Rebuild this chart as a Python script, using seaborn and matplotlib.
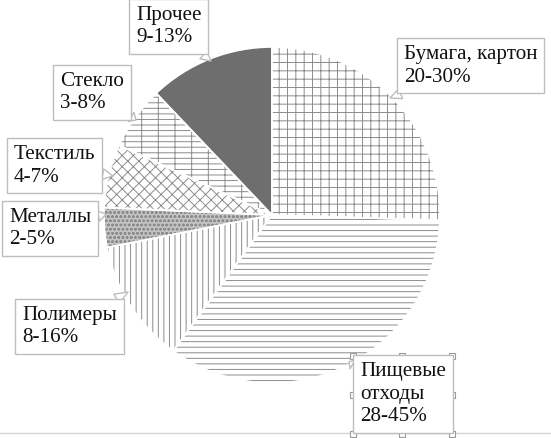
import matplotlib
matplotlib.use("Agg")
import matplotlib.pyplot as plt
import seaborn as sns

# категорії та частки (оцінено з рисунка)
categories = ["Бумага, картон", "Пищевые\nотходы", "Полимеры", "Металлы",
              "Текстиль", "Стекло", "Прочее"]
ranges = ["20-30%", "28-45%", "8-16%", "2-5%", "4-7%", "3-8%", "9-13%"]
shares = [25.5, 34.5, 11.9, 3.8, 6.1, 6.1, 12.1]

hatches = ["++", "---", "|||", "oooo", "xxx", "+--", ""]
fills = ["white", "white", "white", "#c4c4c4", "white", "white", "#6e6e6e"]

# положення підписів (ліво, верх тексту) і точка виноски, у пікселях
label_pos = [(404, 45), (360, 362), (22, 306), (9, 208), (14, 145), (60, 72), (136, 6)]
tail_to = [(390, 98), (349, 362), (128, 292), (106, 214), (113, 176), (136, 120), (211, 61)]

sns.set_style("white")
plt.rcParams["font.family"] = ["Liberation Serif", "DejaVu Serif"]
plt.rcParams["hatch.linewidth"] = 0.7

W, H = 551, 438
fig = plt.figure(figsize=(W / 100, H / 100), dpi=100)
ax = fig.add_axes([0, 0, 1, 1])

cx, cy, r = 272, 215, 168

wedges, _ = ax.pie(shares, colors=fills, hatch=hatches, startangle=-90,
                   counterclock=True, center=(cx, cy), radius=r,
                   wedgeprops=dict(linewidth=0, edgecolor="#8c8c8c"))
ax.pie(shares, startangle=-90, counterclock=True, center=(cx, cy), radius=r,
       wedgeprops=dict(fill=False, edgecolor="white", linewidth=1.2))

ax.set_xlim(0, W)
ax.set_ylim(H, 0)
ax.set_aspect("auto")
ax.axis("off")

for name, rng, (bx, by), (tx, ty) in zip(categories, ranges, label_pos, tail_to):
    ax.annotate(name + "\n" + rng, xy=(tx, ty), xytext=(bx, by),
                ha="left", va="top", fontsize=15.2, color="#111111",
                linespacing=1.25,
                bbox=dict(boxstyle="square,pad=0.32", fc="white", ec="#bdbdbd", lw=1),
                arrowprops=dict(arrowstyle="wedge,tail_width=0.5", fc="white",
                                ec="#bdbdbd", lw=1, shrinkA=0, shrinkB=0))

# маркери виділення навколо рамки «Пищевые отходы»
hx = [353, 402, 452, 353, 452, 353, 402, 452]
hy = [356, 356, 356, 395, 395, 434, 434, 434]
ax.plot(hx, hy, ls="none", marker="s", ms=4, mfc="white", mec="#9a9a9a", mew=0.8)

ax.axhline(433, color="#d4d4d4", lw=1, zorder=0)

fig.savefig("out.png", dpi=100)
